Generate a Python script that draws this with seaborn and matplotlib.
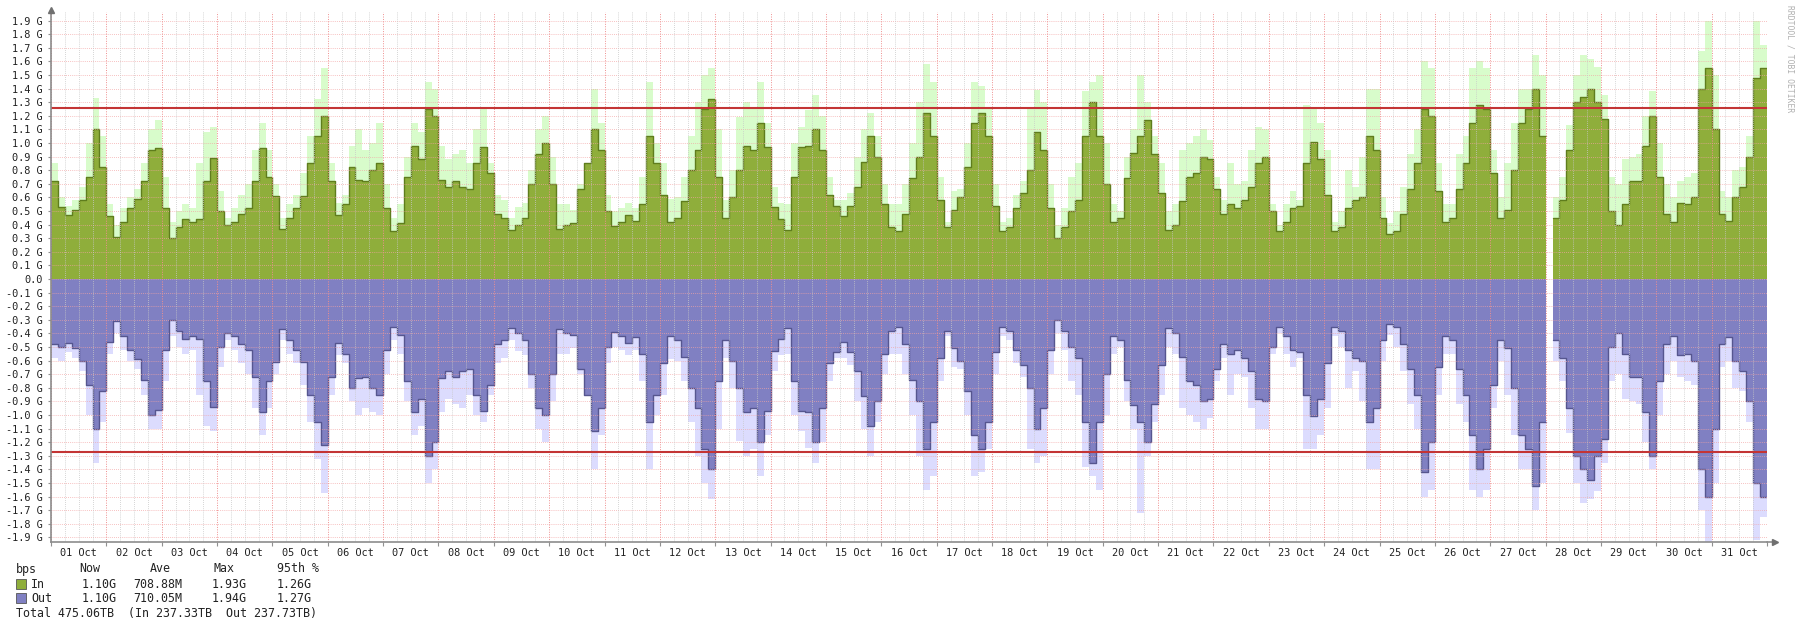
import numpy as np
import matplotlib
matplotlib.use("Agg")
import matplotlib.pyplot as plt
import seaborn as sns
import pandas as pd

# ---------------- data (8 samples per day, 3-hour steps, values in Gbps) ----------------
day_labels = [f"{d:02d} Oct" for d in range(1, 32)]
steps_per_day = 8

in_avg = [
    0.72, 0.53, 0.47, 0.51, 0.58, 0.75, 1.10, 0.82,
    0.46, 0.31, 0.42, 0.52, 0.59, 0.72, 0.95, 0.96,
    0.52, 0.30, 0.38, 0.44, 0.42, 0.44, 0.72, 0.89,
    0.50, 0.40, 0.42, 0.48, 0.52, 0.72, 0.96, 0.75,
    0.61, 0.37, 0.45, 0.52, 0.61, 0.85, 1.05, 1.20,
    0.72, 0.47, 0.55, 0.82, 0.73, 0.72, 0.80, 0.85,
    0.52, 0.35, 0.41, 0.75, 0.98, 0.88, 1.25, 1.20,
    0.73, 0.68, 0.72, 0.68, 0.66, 0.85, 0.97, 0.78,
    0.48, 0.45, 0.36, 0.40, 0.45, 0.70, 0.92, 1.00,
    0.70, 0.37, 0.40, 0.41, 0.66, 0.85, 1.10, 0.95,
    0.50, 0.39, 0.42, 0.47, 0.43, 0.55, 1.05, 0.85,
    0.62, 0.42, 0.45, 0.57, 0.80, 0.95, 1.25, 1.32,
    0.75, 0.45, 0.60, 0.80, 0.98, 0.95, 1.15, 0.97,
    0.53, 0.44, 0.36, 0.75, 0.97, 0.98, 1.10, 0.95,
    0.62, 0.54, 0.46, 0.54, 0.68, 0.86, 1.05, 0.90,
    0.55, 0.38, 0.35, 0.48, 0.74, 0.90, 1.22, 1.05,
    0.58, 0.38, 0.51, 0.60, 0.82, 1.15, 1.22, 1.05,
    0.54, 0.35, 0.38, 0.52, 0.63, 0.80, 1.08, 0.95,
    0.52, 0.30, 0.38, 0.50, 0.58, 1.05, 1.30, 1.05,
    0.70, 0.42, 0.45, 0.74, 0.93, 1.05, 1.17, 0.92,
    0.63, 0.36, 0.40, 0.57, 0.75, 0.78, 0.90, 0.88,
    0.66, 0.48, 0.55, 0.52, 0.58, 0.68, 0.85, 0.90,
    0.50, 0.35, 0.42, 0.52, 0.54, 0.85, 1.01, 0.88,
    0.62, 0.35, 0.38, 0.52, 0.58, 0.60, 1.05, 0.95,
    0.45, 0.33, 0.35, 0.48, 0.66, 0.85, 1.25, 1.20,
    0.65, 0.42, 0.45, 0.66, 0.85, 1.15, 1.28, 1.25,
    0.78, 0.45, 0.51, 0.80, 1.15, 1.25, 1.40, 1.05,
    np.nan, 0.45, 0.58, 0.95, 1.30, 1.34, 1.40, 1.30,
    1.18, 0.50, 0.40, 0.55, 0.72, 0.72, 0.98, 1.20,
    0.75, 0.48, 0.42, 0.56, 0.55, 0.60, 1.40, 1.55,
    1.10, 0.48, 0.43, 0.60, 0.68, 0.90, 1.48, 1.55,
]

in_max = [
    0.85, 0.60, 0.54, 0.58, 0.68, 1.00, 1.33, 1.05,
    0.55, 0.40, 0.52, 0.60, 0.66, 0.85, 1.10, 1.17,
    0.75, 0.42, 0.50, 0.55, 0.52, 0.85, 1.08, 1.12,
    0.65, 0.45, 0.52, 0.62, 0.70, 0.95, 1.15, 0.95,
    0.70, 0.45, 0.55, 0.62, 0.78, 1.05, 1.32, 1.55,
    0.85, 0.56, 0.62, 0.98, 1.10, 0.95, 1.00, 1.15,
    0.70, 0.45, 0.55, 0.90, 1.15, 1.08, 1.45, 1.40,
    0.98, 0.88, 0.92, 0.95, 0.85, 1.10, 1.25, 0.85,
    0.62, 0.58, 0.45, 0.53, 0.56, 0.80, 1.10, 1.20,
    0.90, 0.55, 0.55, 0.51, 0.70, 0.85, 1.40, 1.15,
    0.62, 0.50, 0.52, 0.56, 0.52, 0.75, 1.45, 1.00,
    0.85, 0.59, 0.60, 0.75, 1.05, 1.30, 1.50, 1.55,
    1.10, 0.58, 0.80, 1.19, 1.30, 1.25, 1.45, 1.15,
    0.68, 0.56, 0.55, 1.00, 1.12, 1.24, 1.35, 1.20,
    0.75, 0.58, 0.58, 0.63, 0.90, 1.10, 1.22, 1.05,
    0.70, 0.55, 0.55, 0.70, 1.00, 1.30, 1.58, 1.45,
    0.75, 0.42, 0.65, 0.66, 1.00, 1.45, 1.42, 1.25,
    0.70, 0.42, 0.45, 0.62, 0.72, 1.25, 1.39, 1.30,
    0.70, 0.40, 0.52, 0.75, 0.85, 1.38, 1.45, 1.50,
    1.00, 0.55, 0.50, 0.90, 1.10, 1.50, 1.30, 1.05,
    0.85, 0.50, 0.55, 0.95, 1.00, 1.05, 1.10, 1.02,
    0.75, 0.58, 0.85, 0.70, 0.72, 0.95, 1.12, 1.10,
    0.55, 0.40, 0.55, 0.65, 0.58, 1.28, 1.25, 1.15,
    0.95, 0.42, 0.50, 0.80, 0.68, 0.90, 1.40, 1.40,
    0.60, 0.41, 0.50, 0.68, 0.92, 1.10, 1.60, 1.55,
    0.85, 0.55, 0.55, 0.92, 1.05, 1.55, 1.60, 1.55,
    0.95, 0.60, 0.85, 1.15, 1.40, 1.40, 1.65, 1.50,
    np.nan, 0.60, 0.75, 1.13, 1.50, 1.65, 1.62, 1.56,
    1.35, 0.75, 0.70, 0.88, 0.90, 0.92, 1.20, 1.38,
    1.00, 0.70, 0.60, 0.72, 0.75, 0.78, 1.68, 1.90,
    1.50, 0.65, 0.60, 0.80, 0.82, 1.05, 1.90, 1.72,
]

# outbound traffic magnitudes (drawn below zero)
out_avg = [
    0.48, 0.50, 0.47, 0.51, 0.60, 0.78, 1.10, 0.82,
    0.46, 0.31, 0.42, 0.52, 0.59, 0.74, 1.00, 0.96,
    0.52, 0.30, 0.38, 0.44, 0.42, 0.44, 0.75, 0.94,
    0.50, 0.40, 0.42, 0.48, 0.52, 0.72, 0.98, 0.75,
    0.61, 0.37, 0.45, 0.52, 0.61, 0.85, 1.05, 1.22,
    0.72, 0.47, 0.55, 0.80, 0.73, 0.72, 0.80, 0.85,
    0.52, 0.35, 0.41, 0.75, 0.98, 0.88, 1.30, 1.20,
    0.73, 0.68, 0.72, 0.68, 0.66, 0.85, 0.97, 0.78,
    0.48, 0.45, 0.36, 0.40, 0.45, 0.70, 0.95, 1.00,
    0.70, 0.37, 0.40, 0.41, 0.66, 0.85, 1.12, 0.95,
    0.50, 0.39, 0.42, 0.47, 0.43, 0.55, 1.05, 0.85,
    0.62, 0.42, 0.45, 0.57, 0.80, 0.95, 1.25, 1.40,
    0.75, 0.45, 0.60, 0.80, 0.98, 0.95, 1.20, 0.97,
    0.53, 0.44, 0.36, 0.75, 0.97, 0.98, 1.20, 0.95,
    0.62, 0.54, 0.46, 0.54, 0.68, 0.86, 1.08, 0.90,
    0.55, 0.38, 0.35, 0.48, 0.74, 0.90, 1.25, 1.05,
    0.58, 0.38, 0.51, 0.60, 0.82, 1.15, 1.25, 1.05,
    0.54, 0.35, 0.38, 0.52, 0.63, 0.80, 1.10, 0.95,
    0.52, 0.30, 0.38, 0.50, 0.58, 1.05, 1.35, 1.05,
    0.70, 0.42, 0.45, 0.74, 0.93, 1.05, 1.20, 0.92,
    0.63, 0.36, 0.40, 0.57, 0.75, 0.78, 0.90, 0.88,
    0.66, 0.48, 0.55, 0.52, 0.58, 0.68, 0.88, 0.90,
    0.50, 0.35, 0.42, 0.52, 0.54, 0.85, 1.01, 0.88,
    0.62, 0.35, 0.38, 0.52, 0.58, 0.60, 1.05, 0.95,
    0.45, 0.33, 0.35, 0.48, 0.66, 0.85, 1.42, 1.20,
    0.65, 0.42, 0.45, 0.66, 0.85, 1.15, 1.40, 1.25,
    0.78, 0.45, 0.51, 0.80, 1.15, 1.25, 1.52, 1.05,
    np.nan, 0.45, 0.58, 0.95, 1.30, 1.40, 1.48, 1.30,
    1.18, 0.50, 0.40, 0.55, 0.72, 0.72, 0.98, 1.30,
    0.75, 0.48, 0.42, 0.56, 0.55, 0.60, 1.40, 1.60,
    1.10, 0.48, 0.43, 0.60, 0.68, 0.90, 1.50, 1.60,
]

out_max = [
    0.58, 0.60, 0.54, 0.58, 0.68, 1.00, 1.35, 1.05,
    0.55, 0.40, 0.52, 0.60, 0.66, 0.85, 1.10, 1.10,
    0.75, 0.42, 0.50, 0.55, 0.52, 0.85, 1.08, 1.12,
    0.65, 0.45, 0.52, 0.62, 0.70, 0.95, 1.15, 0.95,
    0.70, 0.45, 0.55, 0.62, 0.78, 1.05, 1.32, 1.57,
    0.85, 0.56, 0.62, 0.90, 1.00, 0.95, 0.98, 1.00,
    0.70, 0.45, 0.55, 0.90, 1.15, 1.08, 1.50, 1.40,
    0.98, 0.88, 0.92, 0.95, 0.85, 1.00, 1.05, 0.85,
    0.62, 0.58, 0.45, 0.53, 0.56, 0.80, 1.10, 1.20,
    0.90, 0.55, 0.55, 0.51, 0.70, 0.85, 1.40, 1.15,
    0.62, 0.50, 0.52, 0.56, 0.52, 0.75, 1.40, 1.00,
    0.85, 0.59, 0.60, 0.75, 1.05, 1.30, 1.50, 1.62,
    1.10, 0.58, 0.80, 1.19, 1.30, 1.25, 1.45, 1.15,
    0.68, 0.56, 0.55, 1.00, 1.12, 1.24, 1.35, 1.20,
    0.75, 0.58, 0.58, 0.63, 0.90, 1.10, 1.30, 1.05,
    0.70, 0.55, 0.55, 0.70, 1.00, 1.30, 1.55, 1.45,
    0.75, 0.42, 0.65, 0.66, 1.00, 1.45, 1.42, 1.25,
    0.70, 0.42, 0.45, 0.62, 0.72, 1.25, 1.35, 1.30,
    0.70, 0.40, 0.52, 0.75, 0.85, 1.38, 1.45, 1.55,
    1.00, 0.55, 0.50, 0.90, 1.10, 1.72, 1.30, 1.05,
    0.85, 0.50, 0.55, 0.95, 1.00, 1.05, 1.10, 1.02,
    0.75, 0.58, 0.85, 0.70, 0.72, 0.95, 1.10, 1.10,
    0.55, 0.40, 0.55, 0.65, 0.58, 1.25, 1.25, 1.15,
    0.95, 0.42, 0.50, 0.80, 0.68, 0.90, 1.40, 1.40,
    0.60, 0.41, 0.50, 0.68, 0.92, 1.10, 1.60, 1.55,
    0.85, 0.55, 0.55, 0.92, 1.05, 1.55, 1.60, 1.55,
    0.95, 0.60, 0.85, 1.15, 1.40, 1.40, 1.70, 1.50,
    np.nan, 0.60, 0.75, 1.13, 1.50, 1.65, 1.62, 1.56,
    1.35, 0.75, 0.70, 0.88, 0.90, 0.92, 1.20, 1.40,
    1.00, 0.70, 0.60, 0.72, 0.75, 0.78, 1.70, 1.95,
    1.50, 0.65, 0.60, 0.80, 0.82, 1.05, 1.92, 1.75,
]

pct95_in = 1.26
pct95_out = 1.27

legend_header = ["bps", "Now", "Ave", "Max", "95th %"]
legend_in = ["In", "1.10G", "708.88M", "1.93G", "1.26G"]
legend_out = ["Out", "1.10G", "710.05M", "1.94G", "1.27G"]
legend_total = "Total 475.06TB  (In 237.33TB  Out 237.73TB)"
watermark = "RRDTOOL / TOBI OETIKER"

# ---------------- styling ----------------
sns.set_theme(style="white")
plt.rcParams['font.family'] = ['DejaVu Sans Mono', 'DejaVu Sans']

C_IN = "#8fae3b"
C_IN_LINE = "#5f7d1d"
C_IN_MAX = "#d8fccb"
C_OUT = "#8080c2"
C_OUT_LINE = "#56568f"
C_OUT_MAX = "#dcdcfe"
C_PCT = "#c43434"

W, H = 1800, 628
fig = plt.figure(figsize=(W / 100, H / 100), dpi=100)
L, R, T, B = 51, 1767, 12, 542
Y0, PX = 279.0, 136.0
ax = fig.add_axes([L / W, 1 - B / H, (R - L) / W, (B - T) / H])
ax.set_facecolor("white")


def step_xy(vals):
    vals = np.asarray(vals, dtype=float)
    edges = np.arange(len(vals) + 1) / steps_per_day
    x = np.repeat(edges, 2)[1:-1]
    y = np.repeat(vals, 2)
    return x, y


def step_frame(vals, sign):
    x, y = step_xy(vals)
    seg = np.cumsum(np.isnan(y))
    df = pd.DataFrame({"x": x, "y": sign * y, "seg": seg})
    return df.dropna()


for vals_max, vals_avg, sign, cm, ca, cl in [
    (in_max, in_avg, 1, C_IN_MAX, C_IN, C_IN_LINE),
    (out_max, out_avg, -1, C_OUT_MAX, C_OUT, C_OUT_LINE),
]:
    xm, ym = step_xy(vals_max)
    ax.fill_between(xm, 0, sign * ym, color=cm, lw=0, zorder=1)
    xa, ya = step_xy(vals_avg)
    ax.fill_between(xa, 0, sign * ya, color=ca, lw=0, zorder=2)
    df = step_frame(vals_avg, sign)
    sns.lineplot(data=df, x="x", y="y", units="seg", estimator=None, sort=False,
                 color=cl, lw=1.0, ax=ax, zorder=2.2, legend=False)

# grid drawn over the areas (rrdtool style)
for v in np.arange(-19, 20) / 10:
    ax.axhline(v, color="#f3a3a3", lw=0.6, ls=(0, (1, 1.5)), zorder=2.5, alpha=0.9)
for h in range(31 * 4 + 1):
    if h % 4 == 0:
        ax.axvline(h / 4, color="#ef8f8f", lw=0.7, ls=(0, (1, 1.5)), zorder=2.5)
    else:
        ax.axvline(h / 4, color="#c8c8c8", lw=0.6, ls=(0, (1, 1.5)), zorder=2.5)

# 95th percentile lines
sns.lineplot(x=[0, 31], y=[pct95_in, pct95_in], color=C_PCT, lw=1.5, ax=ax, zorder=3)
sns.lineplot(x=[0, 31], y=[-pct95_out, -pct95_out], color=C_PCT, lw=1.5, ax=ax, zorder=3)

ax.set_xlim(0, 31)
ax.set_ylim(-(B - Y0) / PX, (Y0 - T) / PX)
ax.set_xlabel("")
ax.set_ylabel("")

# y ticks
yt = np.arange(-19, 20) / 10
ax.set_yticks(yt)
ax.set_yticklabels(["0.0" if abs(v) < 1e-9 else f"{v:.1f} G" for v in yt])
# x ticks: day boundaries (marks) and day centres (labels)
ax.set_xticks(np.arange(32))
ax.set_xticklabels([])
ax.set_xticks(np.arange(31) + 0.5, minor=True)
ax.set_xticklabels(day_labels, minor=True)
ax.tick_params(axis="y", which="major", length=2, width=0.8, color="#909090",
               labelsize=7.4, pad=4, labelcolor="#222222", left=True)
ax.tick_params(axis="x", which="major", length=3, width=0.8, color="#909090",
               bottom=True, direction="out")
ax.tick_params(axis="x", which="minor", length=0, labelsize=7.4, pad=4,
               labelcolor="#222222")
ax.grid(False)

for s in ["top", "right"]:
    ax.spines[s].set_visible(False)
for s in ["left", "bottom"]:
    ax.spines[s].set_color("#8c8c8c")
    ax.spines[s].set_linewidth(1.2)
    ax.spines[s].set_zorder(4)

# axis arrows
ax.plot([0], [1.004], marker="^", ms=4.5, color="#707070", transform=ax.transAxes,
        clip_on=False, zorder=5)
ax.plot([1.0045], [0], marker=">", ms=4.5, color="#707070", transform=ax.transAxes,
        clip_on=False, zorder=5)
ax.plot([1.0, 1.004], [0, 0], color="#8c8c8c", lw=1.2, transform=ax.transAxes,
        clip_on=False, zorder=4)

# watermark
fig.text(1790 / W, 1 - 5 / H, watermark, rotation=270, ha="center", va="top",
         fontsize=5.8, color="#b0b0b0")

# legend block
fs = 8.4


def ftext(x, y, s, **kw):
    fig.text(x / W, 1 - y / H, s, ha="left", va="center", fontsize=fs,
             color="#222222", **kw)


cols = [16, 79, 150, 213, 277]
for x, s in zip(cols, legend_header):
    ftext(x, 569, s)
vcols = [31, 82, 133, 212, 277]
for row_y, vals, col in [(584, legend_in, C_IN), (598, legend_out, C_OUT)]:
    fig.patches.append(plt.Rectangle((16 / W, 1 - (row_y + 5) / H), 10 / W, 10 / H,
                                     transform=fig.transFigure, facecolor=col,
                                     edgecolor="#555555", lw=0.6))
    for x, s in zip(vcols, vals):
        ftext(x, row_y, s)
ftext(16, 613, legend_total)

fig.savefig("out.png", dpi=100, facecolor="white")
